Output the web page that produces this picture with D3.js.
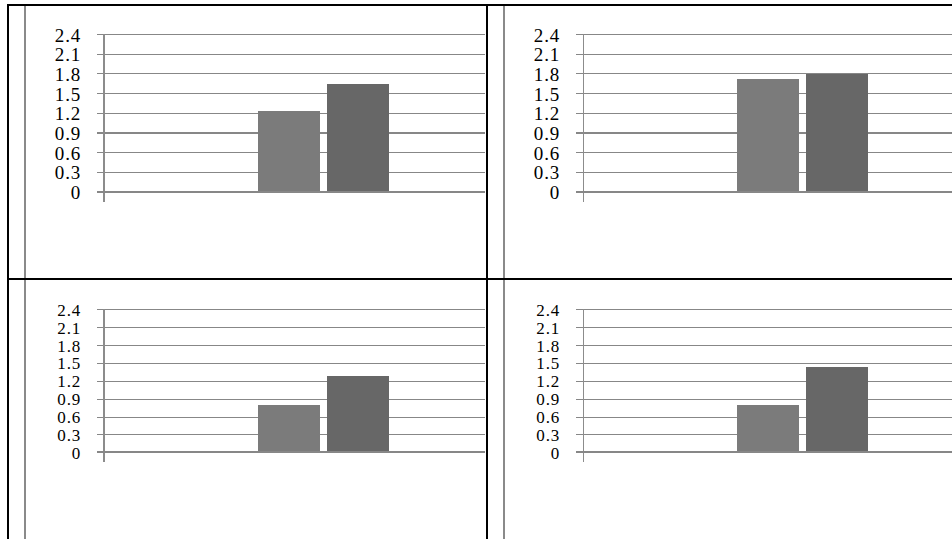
<!DOCTYPE html>
<html>
<head>
<meta charset="utf-8">
<script src="https://cdn.jsdelivr.net/npm/d3@7"></script>
<style>
  html, body { margin: 0; padding: 0; background: #fff; overflow: hidden; }
  svg { display: block; }
  text { font-family: "Liberation Serif", "Times New Roman", serif; }
</style>
</head>
<body>
<svg id="chart" width="952" height="539"></svg>
<script>
// One category per panel, two series, four small panels in a 2x2 grid
const panels = ["Panel 1", "Panel 2", "Panel 3", "Panel 4"];
const category = ["Group"];
const seriesNames = ["Series 1", "Series 2"];
const series1 = [1.23, 1.72, 0.79, 0.79];
const series2 = [1.64, 1.79, 1.28, 1.43];
const yTicks = [0, 0.3, 0.6, 0.9, 1.2, 1.5, 1.8, 2.1, 2.4];
const yTickLabels = ["0", "0.3", "0.6", "0.9", "1.2", "1.5", "1.8", "2.1", "2.4"];

const svg = d3.select("#chart");

const cellW = 479, cellH = 274, originX = 7, originY = 4;
// vertical placement of the plot inside a cell, per grid row
const rowPlot = [
  { top: 30, bottom: 187.7, font: 19, dy: 7.5 },
  { top: 31.3, bottom: 174.3, font: 17, dy: 6.5 }
];
const plotLeft = 97;      // y axis position inside a cell
const plotWidth = 439;    // plot runs past the cell edge and is clipped
const gridColor = "#878787";
const barColors = ["#7b7b7b", "#676767"];

svg.append("defs").selectAll("clipPath")
  .data(panels)
  .join("clipPath")
  .attr("id", (d, i) => "clip" + i)
  .append("rect")
  .attr("x", 0).attr("y", 0)
  .attr("width", (d, i) => (i % 2 === 0 ? cellW - 1 : 952))
  .attr("height", (d, i) => (i < 2 ? cellH : 400));

panels.forEach((name, i) => {
  const col = i % 2, row = Math.floor(i / 2);
  const g = svg.append("g")
    .attr("transform", `translate(${originX + col * cellW},${originY + row * cellH})`);
  const inner = g.append("g").attr("clip-path", `url(#clip${i})`);
  const rp = rowPlot[row];

  const y = d3.scaleLinear().domain([0, 2.4]).range([rp.bottom, rp.top]);
  const px = v => Math.round(y(v));

  const x0 = d3.scaleBand().domain(category).range([plotLeft, plotLeft + plotWidth]).paddingOuter(1.1756);
  const x1 = d3.scaleBand().domain(seriesNames).range([0, x0.bandwidth()]).paddingInner(0.1014);

  // inner gray frame of the chart area
  inner.append("rect").attr("x", 17).attr("y", 0).attr("width", 2).attr("height", 600).attr("fill", "#8a8a8a");

  // horizontal gridlines with tick stubs left of the axis
  const thick = v => (v === 0 ? 2 : (row === 0 && v === 0.9 ? 2 : 1));
  inner.selectAll("rect.grid")
    .data(yTicks.filter(v => v !== 0))
    .join("rect")
    .attr("class", "grid")
    .attr("x", plotLeft - 7)
    .attr("y", v => px(v) - (thick(v) > 1 ? 1 : 0))
    .attr("width", 1200)
    .attr("height", v => thick(v))
    .attr("fill", gridColor);

  // y axis line
  const axisW = col === 0 ? 2 : 1;
  inner.append("rect")
    .attr("x", plotLeft - (axisW > 1 ? 1 : 0))
    .attr("y", px(2.4))
    .attr("width", axisW)
    .attr("height", px(0) - px(2.4) + 10)
    .attr("fill", "#8c8c8c");

  // bars
  const vals = [series1[i], series2[i]];
  inner.selectAll("rect.bar")
    .data(seriesNames.map((s, k) => ({ s, v: vals[k], k })))
    .join("rect")
    .attr("class", "bar")
    .attr("x", d => Math.round(x0(category[0]) + x1(d.s)))
    .attr("y", d => Math.round(y(d.v)))
    .attr("width", d => Math.round(x1.bandwidth()))
    .attr("height", d => px(0) - Math.round(y(d.v)))
    .attr("fill", d => barColors[d.k]);

  // baseline at zero
  inner.append("rect")
    .attr("x", plotLeft - 7)
    .attr("y", px(0) - 1)
    .attr("width", 1200)
    .attr("height", 2)
    .attr("fill", gridColor);

  // tick labels
  g.selectAll("text.tick")
    .data(yTicks)
    .join("text")
    .attr("class", "tick")
    .attr("x", 74)
    .attr("y", v => y(v) + rp.dy)
    .attr("text-anchor", "end")
    .attr("font-size", rp.font)
    .attr("letter-spacing", 0.8)
    .attr("fill", "#000")
    .text((v, k) => yTickLabels[k]);

  // black outer border (top and left)
  g.append("rect").attr("x", 0).attr("y", 0).attr("width", 1200).attr("height", 2).attr("fill", "#000");
  g.append("rect").attr("x", 0).attr("y", 0).attr("width", 2).attr("height", 600).attr("fill", "#000");
});
</script>
</body>
</html>
